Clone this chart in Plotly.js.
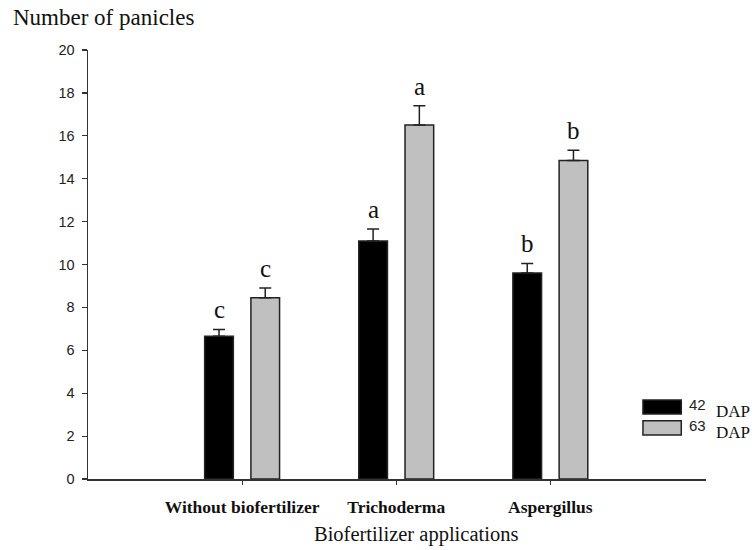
<!DOCTYPE html>
<html>
<head>
<meta charset="utf-8">
<script src="https://cdn.plot.ly/plotly-3.0.1.min.js"></script>
<style>html,body{margin:0;padding:0;background:#fff}</style>
</head>
<body>
<div id="chart" style="width:756px;height:550px"></div>
<script>
// ---- data ----
const categories = ["Without biofertilizer", "Trichoderma", "Aspergillus"];
const seriesNames = ["42", "63"];
const values42 = [6.65, 11.1, 9.6];
const errors42 = [0.32, 0.55, 0.45];
const values63 = [8.45, 16.5, 14.85];
const errors63 = [0.45, 0.9, 0.48];
const letters42 = ["c", "a", "b"];
const letters63 = ["c", "a", "b"];
const yTicks = [0, 2, 4, 6, 8, 10, 12, 14, 16, 18, 20];

const serif = "Liberation Serif, Times New Roman, serif";
const sans = "Liberation Sans, Arial, sans-serif";

function barTrace(name, vals, errs, fill) {
  return {
    type: "bar",
    name: name,
    x: categories,
    y: vals,
    marker: {color: fill, line: {color: "#222", width: 1.5}},
    error_y: {type: "data", array: errs, arrayminus: errs.map(() => 0), symmetric: false,
              color: "#222", thickness: 1.5, width: 6},
    showlegend: false,
    hoverinfo: "skip"
  };
}

const traces = [
  barTrace(seriesNames[0], values42, errors42, "#000000"),
  barTrace(seriesNames[1], values63, errors63, "#c0c0c0")
];

const annotations = [];
function addLetters(vals, errs, letters, xshift) {
  categories.forEach((c, i) => {
    annotations.push({
      x: c, y: vals[i] + errs[i], xref: "x", yref: "y",
      text: letters[i], showarrow: false, yanchor: "bottom", xanchor: "center",
      xshift: xshift, yshift: 4,
      font: {family: serif, size: 25, color: "#111"}
    });
  });
}
addLetters(values42, errors42, letters42, -23);
addLetters(values63, errors63, letters63, 23);

// x-axis title (placed as in the reference, slightly right of centre)
annotations.push({xref: "paper", yref: "paper", x: 0.53, y: -0.13, xanchor: "center", yanchor: "middle",
  showarrow: false, text: "Biofertilizer applications",
  font: {family: serif, size: 20.5, color: "#111"}});

// legend drawn manually
const legendFill = ["#000000", "#c0c0c0"];
const legendY = [[0.1515, 0.184], [0.1026, 0.136]];
const shapes = [];
seriesNames.forEach((s, i) => {
  shapes.push({type: "rect", xref: "paper", yref: "paper",
    x0: 0.898, x1: 0.960, y0: legendY[i][0], y1: legendY[i][1],
    fillcolor: legendFill[i], line: {color: "#222", width: 1.5}});
  annotations.push({xref: "paper", yref: "paper", x: 0.970, y: (legendY[i][0] + legendY[i][1]) / 2 + 0.006,
    xanchor: "left", yanchor: "middle", showarrow: false,
    text: s, font: {family: sans, size: 15, color: "#222"}});
  annotations.push({xref: "paper", yref: "paper", x: 1.013, y: (legendY[i][0] + legendY[i][1]) / 2 - 0.010,
    xanchor: "left", yanchor: "middle", showarrow: false,
    text: "DAP", font: {family: serif, size: 17, color: "#111"}});
});

const layout = {
  width: 756, height: 550,
  margin: {l: 88, r: 50, t: 50, b: 71},
  paper_bgcolor: "#fff", plot_bgcolor: "#fff",
  barmode: "group", bargap: 0.4, bargroupgap: 0.38,
  title: {text: "Number of panicles", x: 13 / 756, xanchor: "left", xref: "container",
          y: 1 - 17 / 550, yanchor: "middle", yref: "container",
          font: {family: serif, size: 23, color: "#111"}},
  xaxis: {
    type: "category", range: [-1, 3.01], showgrid: false, zeroline: false,
    showline: true, linecolor: "#333", linewidth: 1.5,
    ticks: "outside", ticklen: 4, tickcolor: "#333", tickwidth: 1,
    tickfont: {family: serif, size: 17.5, color: "#111", weight: "bold"},
    ticklabelstandoff: 7
  },
  yaxis: {
    range: [0, 20], tickvals: yTicks, showgrid: false, zeroline: false,
    showline: true, linecolor: "#333", linewidth: 1.5,
    ticks: "outside", ticklen: 5, tickcolor: "#333", tickwidth: 1.2,
    ticklabelstandoff: 4,
    tickfont: {family: sans, size: 14.5, color: "#222"}
  },
  annotations: annotations,
  shapes: shapes,
  font: {family: serif}
};

Plotly.newPlot("chart", traces, layout, {staticPlot: true, displayModeBar: false});
</script>
</body>
</html>
